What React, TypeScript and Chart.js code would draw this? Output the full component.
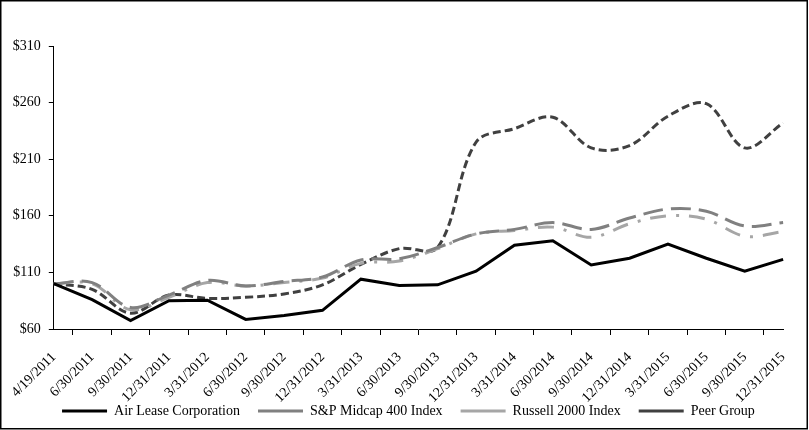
import React, { useEffect, useRef } from "react";
import { Chart, registerables } from "chart.js";

Chart.register(...registerables);

const categories = [
  "4/19/2011", "6/30/2011", "9/30/2011", "12/31/2011",
  "3/31/2012", "6/30/2012", "9/30/2012", "12/31/2012",
  "3/31/2013", "6/30/2013", "9/30/2013", "12/31/2013",
  "3/31/2014", "6/30/2014", "9/30/2014", "12/31/2014",
  "3/31/2015", "6/30/2015", "9/30/2015", "12/31/2015",
];

const airLease = [100, 86, 67.5, 85, 85.5, 68.5, 72, 76.5, 104, 98.5, 99, 111, 134, 138, 116.5, 122.5, 135, 122.5, 111, 121.5];
const spMidcap = [100, 101, 79, 90, 103, 98, 102, 106, 121, 122, 132, 144, 148, 154, 148, 158, 166, 164, 151, 154];
const russell2000 = [100, 100, 77, 88, 101, 98, 101, 105, 118, 120, 131, 144, 147, 150, 141, 153, 160, 157, 142, 146];
const peerGroup = [100, 95, 74, 90, 87, 88, 91, 99, 117, 131, 132, 225, 237, 247, 220, 222, 248, 259, 220, 242];

const Y_MIN = 60;
const Y_MAX = 310;
const Y_STEP = 50;

const FONT = "'Liberation Serif', 'Times New Roman', serif";

const borderPlugin = {
  id: "outerBorder",
  afterDraw(chart: any) {
    const ctx = chart.ctx;
    ctx.save();
    ctx.strokeStyle = "#000";
    ctx.lineWidth = 1.5;
    ctx.strokeRect(0.75, 0.75, chart.width - 2.5, chart.height - 2);
    ctx.restore();
  },
};

// center the legend under the plot area, and let the rotated x labels use the full height
const layoutTweakPlugin = {
  id: "layoutTweak",
  afterLayout(chart: any) {
    const lg = chart.legend;
    if (lg) {
      const shift = (chart.chartArea.left + chart.chartArea.right) / 2 - 10 - (lg.left + lg.right) / 2;
      lg.left += shift;
      lg.right += shift;
    }
    const xs = chart.scales.x;
    if (xs) {
      xs.bottom = chart.height;
    }
  },
};

export default function App() {
  const ref = useRef<HTMLCanvasElement>(null);

  useEffect(() => {
    document.body.style.margin = "0";
    const canvas = ref.current!;
    const chart = new Chart(canvas, {
      type: "line",
      data: {
        labels: categories,
        datasets: [
          {
            label: "Air Lease Corporation",
            data: airLease,
            borderColor: "#000000",
            backgroundColor: "#000000",
            borderWidth: 3,
            tension: 0,
            pointRadius: 0,
            pointHoverRadius: 0,
            pointStyle: "line",
          },
          {
            label: "S&P Midcap 400 Index",
            data: spMidcap,
            borderColor: "#808080",
            backgroundColor: "#808080",
            borderWidth: 3,
            borderDash: [20, 8],
            tension: 0.35,
            pointRadius: 0,
            pointHoverRadius: 0,
            pointStyle: "line",
          },
          {
            label: "Russell 2000 Index",
            data: russell2000,
            borderColor: "#a6a6a6",
            backgroundColor: "#a6a6a6",
            borderWidth: 3,
            borderDash: [16, 10, 3, 10],
            tension: 0.35,
            pointRadius: 0,
            pointHoverRadius: 0,
            pointStyle: "line",
          },
          {
            label: "Peer Group",
            data: peerGroup,
            borderColor: "#404040",
            backgroundColor: "#404040",
            borderWidth: 3,
            borderDash: [8, 4],
            tension: 0.35,
            pointRadius: 0,
            pointHoverRadius: 0,
            pointStyle: "line",
          },
        ],
      },
      options: {
        responsive: false,
        animation: false,
        devicePixelRatio: 1,
        layout: { padding: { left: 0, right: 21, top: 46, bottom: 2 } },
        plugins: {
          legend: {
            position: "bottom",
            labels: {
              usePointStyle: true,
              pointStyleWidth: 45,
              padding: 18,
              color: "#000",
              font: { family: FONT, size: 14 },
            },
          },
          tooltip: { enabled: false },
        },
        scales: {
          x: {
            type: "category",
            offset: false,
            grid: {
              offset: true,
              drawOnChartArea: false,
              drawTicks: true,
              tickLength: 6,
              color: "#000",
            },
            border: { color: "#000", width: 1 },
            ticks: {
              autoSkip: false,
              minRotation: 45,
              maxRotation: 45,
              padding: 14,
              color: "#000",
              font: { family: FONT, size: 14 },
            },
            afterFit: (s: any) => {
              s.height = 57;
            },
          },
          y: {
            min: Y_MIN,
            max: Y_MAX,
            grid: {
              drawOnChartArea: false,
              drawTicks: true,
              tickLength: 5,
              color: "#000",
            },
            border: { color: "#000", width: 1 },
            ticks: {
              stepSize: Y_STEP,
              padding: 8,
              color: "#000",
              font: { family: FONT, size: 14 },
              callback: (v: any) => "$" + v,
            },
            afterFit: (s: any) => {
              s.width = 53;
            },
          },
        },
      },
      plugins: [layoutTweakPlugin, borderPlugin],
    });
    return () => chart.destroy();
  }, []);

  return (
    <div style={{ width: 809, height: 430 }}>
      <canvas ref={ref} width={809} height={430} style={{ display: "block" }} />
    </div>
  );
}
